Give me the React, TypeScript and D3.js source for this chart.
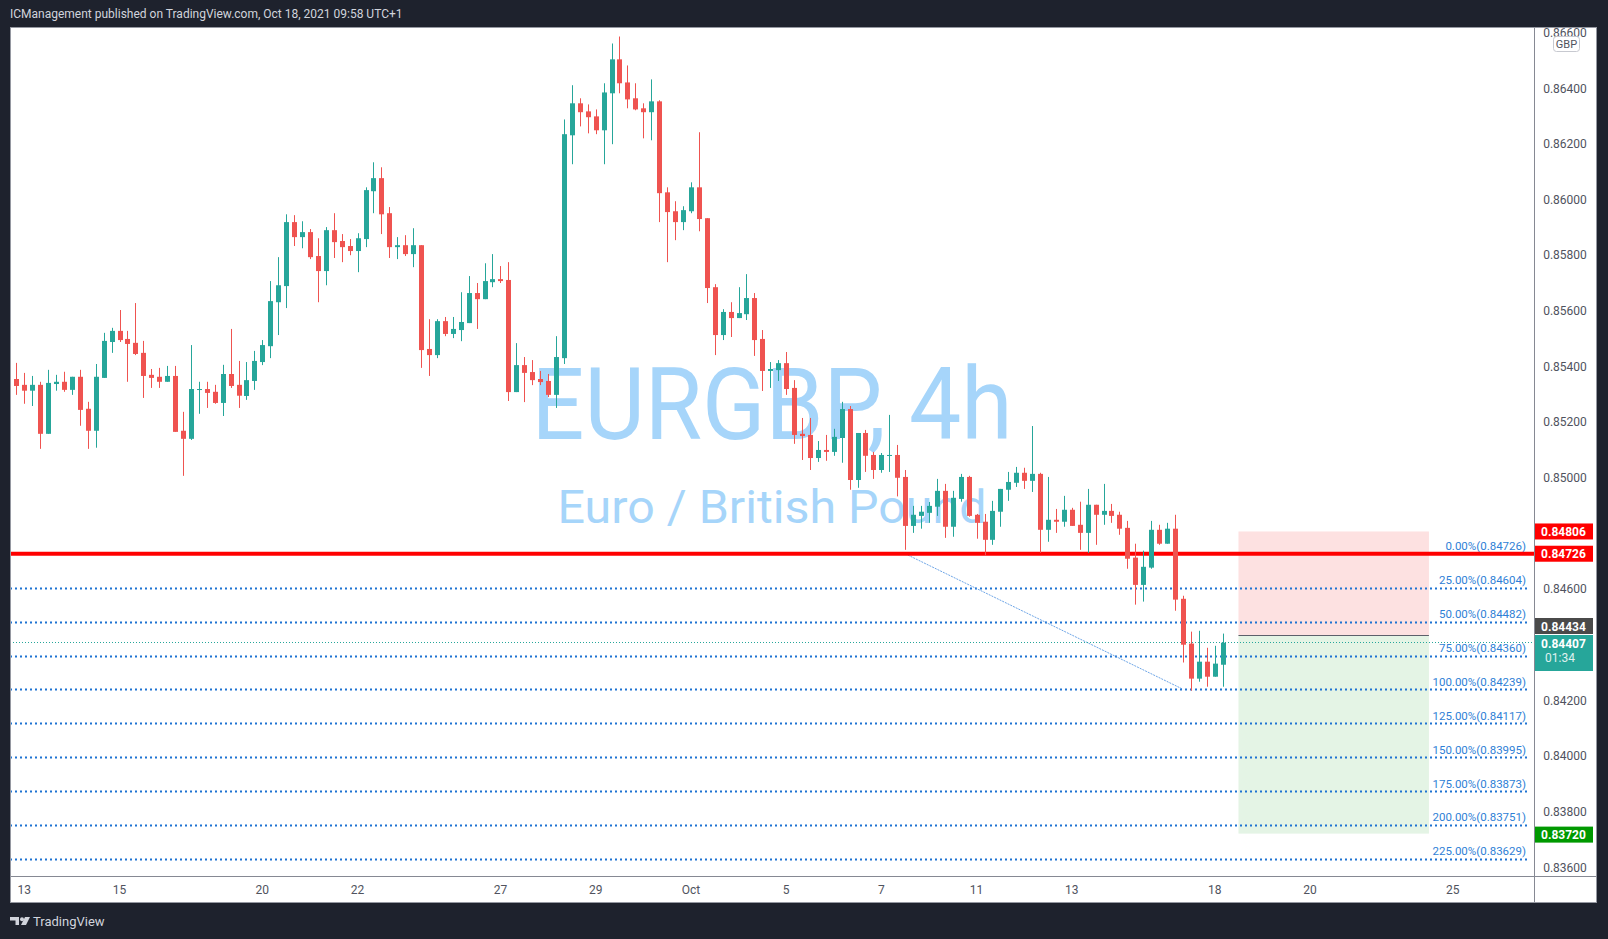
import React from 'react';
import * as d3 from 'd3';

// EURGBP 4h candles, Sep 10 - Oct 18 2021
const opens = [
  0.85305, 0.85354, 0.85333, 0.85312, 0.85333, 0.85157, 0.85336, 0.85344, 0.85315, 0.85362,
  0.85247, 0.85168, 0.85358, 0.85487, 0.85527, 0.85498, 0.85484, 0.85448, 0.85369, 0.85362,
  0.85344, 0.85365, 0.85168, 0.85139, 0.85315, 0.85318, 0.85308, 0.85268, 0.85372, 0.85333,
  0.85293, 0.85347, 0.85415, 0.85472, 0.8563, 0.85688, 0.85918, 0.85864, 0.85882, 0.85796,
  0.85742, 0.85889, 0.8585, 0.85832, 0.85814, 0.85857, 0.86029, 0.86076, 0.8595, 0.85828,
  0.85835, 0.85803, 0.85835, 0.85462, 0.8544, 0.85562, 0.85516, 0.8553, 0.85555, 0.85663,
  0.85641, 0.85702, 0.85713, 0.8571, 0.85307, 0.85404, 0.85379, 0.85354, 0.85347, 0.85297,
  0.85429, 0.8623, 0.86345, 0.86316, 0.86298, 0.86248, 0.86381, 0.86503, 0.8642, 0.86363,
  0.86327, 0.86313, 0.86352, 0.86025, 0.85957, 0.85918, 0.85957, 0.86043, 0.85932, 0.85684,
  0.85512, 0.85595, 0.85573, 0.85587, 0.85645, 0.85498, 0.85383, 0.85386, 0.85411, 0.85322,
  0.85157, 0.85153, 0.8507, 0.85099, 0.85092, 0.85142, 0.85246, 0.84991, 0.8516, 0.85081,
  0.85027, 0.85078, 0.85081, 0.85002, 0.84826, 0.84862, 0.84873, 0.84895, 0.84952, 0.84823,
  0.84923, 0.85002, 0.84866, 0.84841, 0.84776, 0.84877, 0.84956, 0.84981, 0.85017, 0.84988,
  0.85013, 0.84812, 0.84848, 0.84841, 0.84884, 0.8483, 0.84801, 0.84902, 0.84866, 0.8488,
  0.84866, 0.84819, 0.84712, 0.84614, 0.84676, 0.84812, 0.84762, 0.84816, 0.84564, 0.84403,
  0.84277, 0.84338, 0.84284, 0.84327,
];
const highs = [
  0.85357, 0.85412, 0.85376, 0.85365, 0.85344, 0.85387, 0.85369, 0.8538, 0.85362, 0.85387,
  0.85272, 0.85408, 0.8552, 0.85538, 0.85602, 0.85527, 0.85627, 0.85491, 0.8539, 0.85394,
  0.85401, 0.85401, 0.85236, 0.85476, 0.85344, 0.85344, 0.85333, 0.85405, 0.85534, 0.85419,
  0.85415, 0.85455, 0.85494, 0.85706, 0.85792, 0.85946, 0.85943, 0.85921, 0.85893, 0.8586,
  0.859, 0.8595, 0.85875, 0.85857, 0.85878, 0.86043, 0.86133, 0.86115, 0.85972, 0.85864,
  0.85871, 0.85896, 0.85835, 0.85569, 0.85569, 0.85577, 0.85577, 0.85666, 0.85724, 0.85699,
  0.8577, 0.85803, 0.8576, 0.85774, 0.85483, 0.85433, 0.85422, 0.85383, 0.85372, 0.85508,
  0.86287, 0.8641, 0.86363, 0.86341, 0.86323, 0.86417, 0.8656, 0.86585, 0.86481, 0.86417,
  0.86345, 0.86431, 0.86356, 0.86043, 0.85993, 0.85975, 0.86061, 0.86241, 0.85932, 0.85695,
  0.85605, 0.8563, 0.85684, 0.85731, 0.85663, 0.8553, 0.85415, 0.85422, 0.85451, 0.8535,
  0.85214, 0.85214, 0.85131, 0.85153, 0.85175, 0.85272, 0.85257, 0.8516, 0.85171, 0.85092,
  0.85088, 0.85225, 0.85117, 0.85027, 0.84898, 0.84898, 0.84912, 0.84995, 0.84977, 0.84952,
  0.85013, 0.85006, 0.84869, 0.84869, 0.84916, 0.84959, 0.8502, 0.85038, 0.85035, 0.85185,
  0.85017, 0.85002, 0.84887, 0.84934, 0.84891, 0.84913, 0.84959, 0.84902, 0.84977, 0.84905,
  0.84877, 0.84844, 0.84762, 0.84737, 0.84844, 0.8483, 0.84837, 0.84866, 0.84575, 0.84446,
  0.84449, 0.84388, 0.84395, 0.84439,
];
const lows = [
  0.85303, 0.85297, 0.85265, 0.85257, 0.85103, 0.85157, 0.85312, 0.85308, 0.85297, 0.85186,
  0.85103, 0.85107, 0.85358, 0.85448, 0.85487, 0.85344, 0.8544, 0.85286, 0.85322, 0.85322,
  0.85344, 0.85164, 0.85006, 0.85135, 0.85229, 0.8525, 0.85265, 0.85221, 0.85322, 0.8525,
  0.85279, 0.85315, 0.85404, 0.85429, 0.85512, 0.85609, 0.85832, 0.85824, 0.85785, 0.8563,
  0.85691, 0.85789, 0.85774, 0.85799, 0.85738, 0.85828, 0.8595, 0.85875, 0.85789, 0.85785,
  0.85796, 0.85756, 0.85394, 0.85365, 0.85429, 0.85508, 0.85501, 0.8549, 0.85555, 0.85534,
  0.85641, 0.85684, 0.85699, 0.85275, 0.85307, 0.85271, 0.85332, 0.85332, 0.85289, 0.8525,
  0.85408, 0.86126, 0.86262, 0.86237, 0.86234, 0.86126, 0.86198, 0.86381, 0.86327, 0.8632,
  0.86219, 0.86212, 0.85918, 0.85774, 0.85853, 0.85889, 0.8595, 0.85885, 0.85627, 0.8544,
  0.85494, 0.85505, 0.85573, 0.85566, 0.85437, 0.85311, 0.85322, 0.85347, 0.85297, 0.85121,
  0.85063, 0.85027, 0.85056, 0.8506, 0.85078, 0.85053, 0.84956, 0.84963, 0.8502, 0.84995,
  0.85017, 0.8502, 0.84932, 0.8474, 0.84801, 0.84816, 0.84837, 0.84862, 0.84783, 0.84787,
  0.84913, 0.84859, 0.8478, 0.84719, 0.84758, 0.84823, 0.84916, 0.84966, 0.84959, 0.84948,
  0.84729, 0.84769, 0.84801, 0.84823, 0.84826, 0.8474, 0.84729, 0.84758, 0.8483, 0.84837,
  0.84794, 0.84672, 0.84543, 0.84554, 0.84672, 0.84758, 0.84762, 0.84521, 0.84335, 0.84234,
  0.84266, 0.84248, 0.84284, 0.84248,
];
const closes = [
  0.85353, 0.85329, 0.85312, 0.85333, 0.85157, 0.8534, 0.85344, 0.85315, 0.85362, 0.85243,
  0.85168, 0.85362, 0.85491, 0.85527, 0.85494, 0.8548, 0.85444, 0.85365, 0.85358, 0.85344,
  0.85365, 0.85164, 0.85139, 0.85318, 0.85318, 0.85304, 0.85268, 0.85372, 0.85329, 0.85294,
  0.8535, 0.85419, 0.85476, 0.85634, 0.85691, 0.85918, 0.85864, 0.85882, 0.85792, 0.85742,
  0.85889, 0.85846, 0.85828, 0.85814, 0.8586, 0.86033, 0.86076, 0.85946, 0.85828, 0.85835,
  0.85803, 0.85835, 0.85458, 0.8544, 0.85562, 0.85516, 0.85534, 0.85559, 0.85663, 0.85641,
  0.85706, 0.85713, 0.85706, 0.85307, 0.85404, 0.85376, 0.8535, 0.85343, 0.85297, 0.85433,
  0.86234, 0.86345, 0.86313, 0.86295, 0.86248, 0.86384, 0.86503, 0.86417, 0.86359, 0.86323,
  0.86313, 0.86352, 0.86022, 0.85954, 0.85918, 0.85961, 0.86043, 0.85929, 0.85681, 0.85512,
  0.85595, 0.85573, 0.85591, 0.85645, 0.85494, 0.85383, 0.8539, 0.85411, 0.85318, 0.85153,
  0.85149, 0.8507, 0.85099, 0.85092, 0.85146, 0.85246, 0.84991, 0.8516, 0.85078, 0.85027,
  0.85081, 0.85081, 0.84999, 0.84826, 0.84866, 0.84877, 0.84898, 0.84952, 0.84823, 0.84927,
  0.85002, 0.84862, 0.84837, 0.84776, 0.8488, 0.84959, 0.84984, 0.85017, 0.84988, 0.85013,
  0.84812, 0.84848, 0.84841, 0.84884, 0.84826, 0.84801, 0.84902, 0.84866, 0.8488, 0.84862,
  0.84816, 0.84708, 0.84614, 0.84679, 0.84812, 0.84762, 0.84816, 0.84561, 0.84399, 0.84277,
  0.84338, 0.84284, 0.84331, 0.84406,
];

// time axis: day label and the bar index it sits on
const dayLabels = ['13', '15', '20', '22', '27', '29', 'Oct', '5', '7', '11', '13', '18', '20', '25'];
const dayBars = [2, 14, 32, 44, 62, 74, 86, 98, 110, 122, 134, 152, 164, 182];

const priceTicks = [0.836, 0.838, 0.84, 0.842, 0.844, 0.846, 0.848, 0.85, 0.852, 0.854, 0.856, 0.858, 0.86, 0.862, 0.864, 0.866];

// fib extension levels
const fibRatios = [0, 25, 50, 75, 100, 125, 150, 175, 200, 225];
const fibPrices = [0.84726, 0.84604, 0.84482, 0.8436, 0.84239, 0.84117, 0.83995, 0.83873, 0.83751, 0.83629];
const fibAnchorBars = [113, 148];

const supportLine = 0.84726;
const lastPrice = 0.84407;
const entryPrice = 0.84434;
const stopPrice = 0.84806;
const targetPrice = 0.8372;
const positionBars = [155, 179];

const GREEN = '#26a69a';
const RED = '#ef5350';
const FIB = '#1e73d2';
const FONT = 'Roboto, "Noto Sans", sans-serif';

const Tag = ({ cy, h = 16, fill, text, sub }: { cy: number; h?: number; fill: string; text: string; sub?: string }) => (
  <g>
    <rect x={1534} y={cy - (sub ? 8 : h / 2)} width={59} height={sub ? 36 : h} fill={fill} />
    <text x={1563.5} y={cy + 4.5} textAnchor="middle" fontSize={12} fontWeight="bold" fill="#fff" fontFamily={FONT}>
      {text}
    </text>
    {sub && (
      <text x={1545} y={cy + 19} fontSize={12} fill="#fff" fontFamily={FONT} opacity={0.85}>
        {sub}
      </text>
    )}
  </g>
);

export default function App() {
  const left = 10;
  const top = 27;
  const plotRight = 1534;
  const plotBottom = 876;
  const right = 1597;
  const bottom = 903;

  const x = d3.scaleLinear().domain([0, 153]).range([8.4, 1222.6]);
  const y = d3.scaleLinear().domain([0.836, 0.864]).range([867, 88]);
  const fmt = d3.format('.5f');

  return (
    <svg width={1608} height={939} style={{ position: 'absolute', left: 0, top: 0, display: 'block' }}>
      <defs>
        <clipPath id="plot">
          <rect x={left} y={top} width={plotRight - left} height={plotBottom - top} />
        </clipPath>
        <clipPath id="axis">
          <rect x={plotRight} y={top} width={right - plotRight} height={plotBottom - top} />
        </clipPath>
      </defs>
      <rect width={1608} height={939} fill="#1e222d" />
      <text x={10} y={18} fontSize={12} fill="#d1d4dc" fontFamily={FONT}>
        ICManagement published on TradingView.com, Oct 18, 2021 09:58 UTC+1
      </text>
      <rect x={left} y={top} width={right - left} height={bottom - top} fill="#fff" />

      <g clipPath="url(#plot)">
        {/* watermark */}
        <text x={772} y={439} textAnchor="middle" fontSize={100} fill="#a6d5fa" fontFamily={FONT} textLength={481} lengthAdjust="spacingAndGlyphs">
          EURGBP, 4h
        </text>
        <text x={772} y={523} textAnchor="middle" fontSize={46} fill="#a6d5fa" fontFamily={FONT} textLength={429} lengthAdjust="spacingAndGlyphs">
          Euro / British Pound
        </text>

        {/* long position tool */}
        <rect x={x(positionBars[0])} y={y(stopPrice)} width={x(positionBars[1]) - x(positionBars[0])} height={y(entryPrice) - y(stopPrice)} fill="#fde1e1" />
        <rect x={x(positionBars[0])} y={y(entryPrice)} width={x(positionBars[1]) - x(positionBars[0])} height={y(targetPrice) - y(entryPrice)} fill="#e4f4e5" />
        <line x1={x(positionBars[0])} x2={x(positionBars[1])} y1={Math.round(y(entryPrice)) + 0.5} y2={Math.round(y(entryPrice)) + 0.5} stroke="#5d606b" strokeWidth={1} />

        {/* fib levels */}
        {fibPrices.map((p, i) =>
          i === 0 ? null : (
            <line key={i} x1={left} x2={1530} y1={Math.round(y(p)) + 0.5} y2={Math.round(y(p)) + 0.5} stroke={FIB} strokeWidth={2} strokeDasharray="2 3" />
          )
        )}
        {fibPrices.map((p, i) => (
          <text key={'t' + i} x={1526} y={y(p) - 3.5} textAnchor="end" fontSize={11.5} fill="#2f7fd6" fontFamily={FONT}>
            {`${fibRatios[i].toFixed(2)}%(${fmt(p)})`}
          </text>
        ))}
        <line
          x1={x(fibAnchorBars[0])}
          y1={y(fibPrices[0])}
          x2={x(fibAnchorBars[1])}
          y2={y(fibPrices[4])}
          stroke="#4a90e2"
          strokeWidth={1}
          strokeDasharray="2 1"
          opacity={0.8}
        />

        {/* last price line */}
        <line x1={left} x2={plotRight} y1={Math.round(y(lastPrice)) + 0.5} y2={Math.round(y(lastPrice)) + 0.5} stroke={GREEN} strokeWidth={1} strokeDasharray="1 2" />

        {/* support line */}
        <line x1={left} x2={plotRight} y1={y(supportLine)} y2={y(supportLine)} stroke="#ff0000" strokeWidth={4} />

        {/* candles */}
        {opens.map((o, i) => {
          const c = closes[i];
          const cx = Math.round(x(i));
          const col = c >= o ? GREEN : RED;
          const yTop = y(Math.max(o, c));
          const yBot = y(Math.min(o, c));
          return (
            <g key={i}>
              <line x1={cx + 0.5} x2={cx + 0.5} y1={y(highs[i])} y2={y(lows[i])} stroke={col} strokeWidth={1} />
              <rect x={cx - 2} y={yTop} width={5} height={Math.max(1, yBot - yTop)} fill={col} />
            </g>
          );
        })}
      </g>

      {/* price axis */}
      <g clipPath="url(#axis)">
        {priceTicks.map((p) => (
          <text key={p} x={1565} y={y(p) + 4.5} textAnchor="middle" fontSize={12} fill="#50535e" fontFamily={FONT}>
            {fmt(p)}
          </text>
        ))}
      </g>
      <rect x={1553.5} y={36.5} width={26} height={15} rx={3} fill="#fff" stroke="#c7c9d0" />
      <text x={1566.5} y={48} textAnchor="middle" fontSize={11} fill="#50535e" fontFamily={FONT}>
        GBP
      </text>

      <Tag cy={y(stopPrice)} fill="#ff0000" text={fmt(stopPrice)} />
      <Tag cy={y(supportLine)} fill="#ff0000" text={fmt(supportLine)} />
      <Tag cy={626} fill="#4a4a4a" text={fmt(entryPrice)} />
      <Tag cy={643} fill={GREEN} text={fmt(lastPrice)} sub="01:34" />
      <Tag cy={y(targetPrice) + 1} fill="#009900" text={fmt(targetPrice)} />

      {/* time axis */}
      {dayLabels.map((d, i) => (
        <text key={i} x={x(dayBars[i])} y={894} textAnchor="middle" fontSize={12} fill="#50535e" fontFamily={FONT}>
          {d}
        </text>
      ))}

      {/* frame lines */}
      <line x1={plotRight + 0.5} x2={plotRight + 0.5} y1={top} y2={bottom} stroke="#868993" />
      <line x1={left} x2={right} y1={plotBottom + 0.5} y2={plotBottom + 0.5} stroke="#868993" />
      <rect x={left + 0.5} y={top + 0.5} width={right - left - 1} height={bottom - top - 1} fill="none" stroke="#9598a1" />

      {/* footer logo */}
      <g fill="#d1d4dc">
        <path d="M10 917 h9 v8 h-3.5 v-4.5 h-5.5 z" />
        <circle cx={22} cy={919.2} r={2} />
        <path d="M25 917 h5 l-4 8 h-5 z" />
      </g>
      <text x={33} y={926} fontSize={13} fill="#d1d4dc" fontFamily={FONT}>
        TradingView
      </text>
    </svg>
  );
}
